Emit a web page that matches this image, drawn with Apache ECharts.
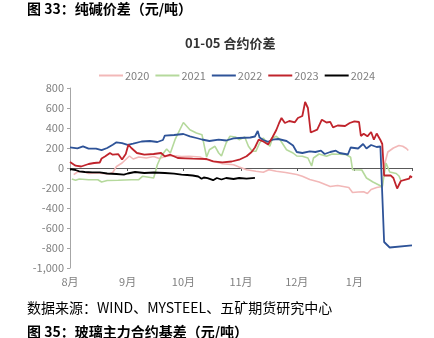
<!DOCTYPE html>
<html><head><meta charset="utf-8">
<script src="https://cdn.jsdelivr.net/npm/echarts@6/dist/echarts.min.js"></script>
<style>html,body{margin:0;padding:0;background:#fff;}#c{width:434px;height:338px;}</style>
</head><body><div id="c"></div>
<script>
// x value = days since Aug 1
var monthTicks = [0, 31, 61, 92, 122, 153];
var monthLabels = ['8月', '9月', '10月', '11月', '12月', '1月'];
var seriesNames = ['2020', '2021', '2022', '2023', '2024'];
var s2020 = [[2,-67],[4,-40],[7,-35],[10,-55],[14,-50],[18,-55],[21,-60],[23,-45],[25,15],[28,50],[30,85],[32,120],[34,90],[37,110],[41,100],[45,115],[48,95],[52,120],[56,122],[60,115],[64,117],[70,110],[73,85],[77,67],[82,43],[88,33],[91,10],[95,-17],[100,-33],[104,-43],[107,-17],[111,-33],[116,-45],[122,-65],[125,-83],[129,-115],[134,-140],[138,-170],[140,-185],[144,-175],[150,-195],[152,-245],[155,-240],[158,-238],[160,-255],[162,-215],[165,-195],[168,-185],[169,20],[171,160],[174,200],[177,225],[179,217],[181,195],[182,175]];
var s2021 = [[1,-110],[3,-123],[5,-110],[10,-117],[15,-117],[17,-140],[20,-125],[26,-123],[33,-117],[37,-117],[39,-83],[40,-100],[45,-100],[47,33],[49,117],[52,190],[54,150],[56.5,283],[61,455],[64.5,383],[68,350],[71,333],[72,317],[73.5,110],[75,183],[78,217],[80,150],[81.5,120],[84,250],[86,317],[89,310],[91,283],[94,310],[96,217],[98,167],[100,167],[102,250],[104,300],[106,250],[107.5,217],[109,300],[111,317],[113,283],[116.5,183],[120,150],[122,120],[125,117],[128,100],[130,20],[131,100],[134,140],[138,117],[141,140],[148.5,135],[151,107],[152,-17],[157,-20],[159.5,-100],[163,-140],[166.7,-175],[168,-190],[170,50],[172,-40],[175.5,-55],[177,-80],[178,-125]];
var s2022 = [[0,207],[4,197],[7,217],[10,193],[14,193],[17,178],[20,200],[23,233],[25,257],[28,248],[31,232],[34,243],[38.5,265],[43,270],[47,260],[50,280],[51,323],[56,330],[61,340],[64.5,317],[68,300],[71,285],[75,270],[80,283],[84,275],[88,297],[91,300],[97,305],[99.5,315],[101,370],[102,305],[104,280],[106.6,262],[109,283],[112,290],[116.5,270],[120,225],[122,160],[125,150],[129,167],[132,160],[135,173],[137,140],[140,160],[143,173],[145,150],[149.5,135],[151,205],[155,195],[157.7,240],[159.5,195],[162,230],[165,210],[167,215],[168,200],[169,-740],[170,-735],[172,-795],[184,-774]];
var s2023 = [[0,60],[3,23],[6,15],[10,40],[13,50],[16,55],[17,95],[19,117],[21.5,150],[23,133],[26,138],[28,85],[30,140],[31.4,233],[33,200],[36,150],[40,133],[45,140],[49,150],[51,117],[54,133],[58,100],[62,97],[66,93],[73.5,90],[77,67],[82,57],[87,65],[91,83],[95,117],[97.7,160],[99.5,205],[101.5,283],[104,265],[106.6,235],[109,310],[111,380],[112.5,450],[113.8,500],[115.6,450],[118,470],[121,457],[122.6,500],[125,520],[126.5,660],[128,600],[129.5,355],[133,383],[135.5,483],[138,455],[140,462],[141.5,407],[144,425],[148,420],[150.5,450],[153,467],[155.5,460],[156.5,320],[158,343],[160,317],[162,360],[163.5,283],[165,345],[167,280],[168,240],[169,-75],[172.5,-73],[174,-100],[176,-205],[178,-130],[180.5,-117],[182.5,-107],[183,-80],[184,-95]];
var s2024 = [[0,-12],[3,-20],[5,-33],[8,-40],[12,-43],[16,-43],[20,-55],[25,-60],[29,-67],[31,-55],[35,-40],[40,-50],[45,-45],[51,-50],[56,-57],[60,-67],[63,-70],[66,-75],[69,-85],[70.8,-108],[72,-95],[74,-102],[77,-122],[79,-100],[81.5,-115],[84,-100],[88,-110],[91,-100],[95,-107],[99.5,-98]];
var seriesData = [s2020, s2021, s2022, s2023, s2024];
var colors = ['#f2b8b8', '#b5d99c', '#2e5398', '#c0242c', '#000000'];
var widths = [1.6, 1.6, 1.8, 1.8, 1.8];

var FONT = '"Noto Sans CJK SC", "Noto Sans", sans-serif';
var chart = echarts.init(document.getElementById('c'));
chart.setOption({
  animation: false,
  textStyle: {fontFamily: FONT},
  title: {
    text: '01-05 合约价差', left: 180, top: 32,
    textStyle: {fontSize: 13, fontWeight: 'bold', color: '#333', fontFamily: FONT}
  },
  legend: {
    top: 65, left: 94, icon: 'rect', itemWidth: 24, itemHeight: 2, itemGap: 6,
    textStyle: {fontSize: 11, color: '#808080', fontFamily: FONT, padding: [0, 0, 0, -3]},
    data: seriesNames
  },
  grid: {left: 70, right: 22, top: 88, bottom: 70},
  xAxis: [{
    type: 'value', min: 0, max: 184,
    axisLine: {show: false, onZero: false},
    axisTick: {show: false},
    splitLine: {show: false},
    axisLabel: {customValues: monthTicks, formatter: function (v) { return monthLabels[monthTicks.indexOf(v)]; },
      fontSize: 11, color: '#808080', margin: 8, fontFamily: FONT}
  }, {
    type: 'value', min: 0, max: 184, position: 'bottom',
    axisLine: {show: true, onZero: true, lineStyle: {color: '#595959', width: 1}},
    axisTick: {show: true, customValues: monthTicks.concat([184]), length: 3, lineStyle: {color: '#595959'}},
    axisLabel: {show: false},
    splitLine: {show: false}
  }],
  yAxis: {
    type: 'value', min: -1000, max: 800, interval: 200,
    axisLine: {show: true, lineStyle: {color: '#a6a6a6'}},
    axisTick: {show: true, length: 3, lineStyle: {color: '#a6a6a6'}},
    splitLine: {show: false},
    axisLabel: {fontSize: 11, color: '#808080', margin: 6, fontFamily: FONT}
  },
  series: seriesNames.map(function (n, i) {
    return {
      name: n, type: 'line', xAxisIndex: 0, data: seriesData[i], symbol: 'none',
      lineStyle: {color: colors[i], width: widths[i]}, itemStyle: {color: colors[i]}, z: 2 + i
    };
  }),
  graphic: [
    {type: 'text', left: 27, top: 2, style: {text: '图 33：纯碱价差（元/吨）', font: 'bold 14px ' + FONT, fill: '#000'}},
    {type: 'text', left: 27, top: 301, style: {text: '数据来源：WIND、MYSTEEL、五矿期货研究中心', font: '14px ' + FONT, fill: '#000'}},
    {type: 'text', left: 27, top: 325, style: {text: '图 35：玻璃主力合约基差（元/吨）', font: 'bold 14px ' + FONT, fill: '#000'}}
  ]
});
</script></body></html>
